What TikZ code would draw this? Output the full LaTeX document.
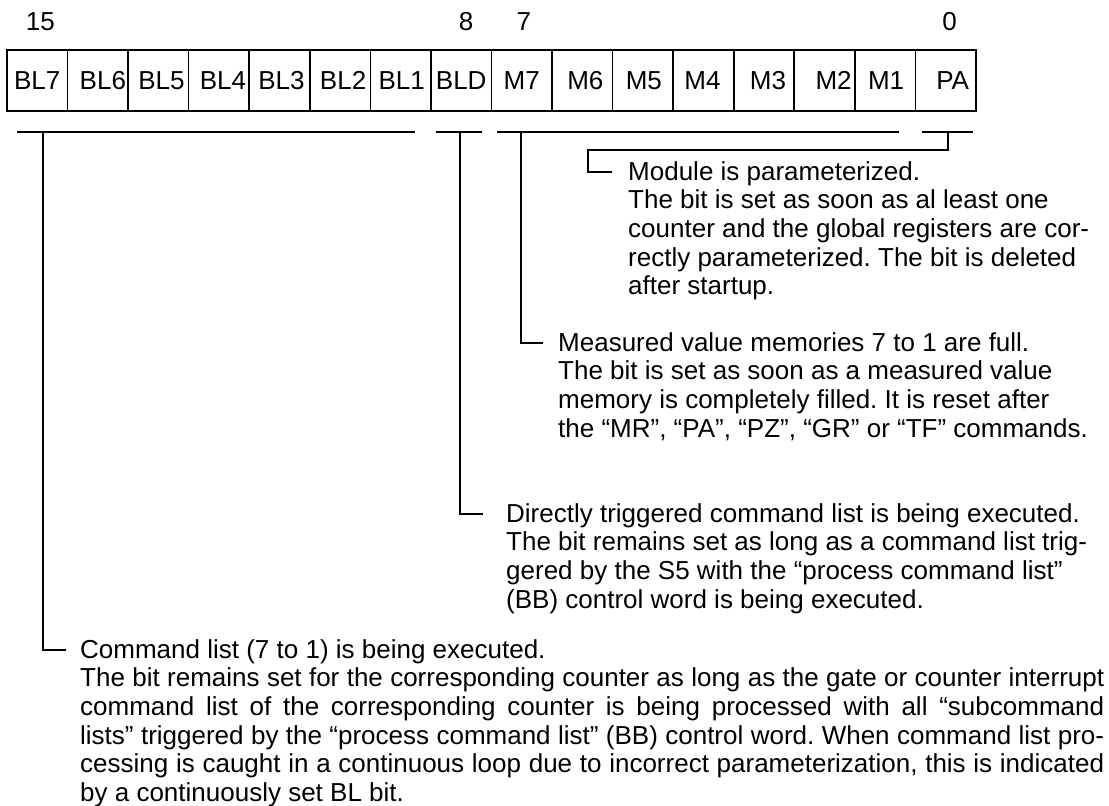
\documentclass[tikz,border=0pt]{standalone}
\usepackage{fontspec}
\setmainfont{Liberation Sans}
\usetikzlibrary{calc}
\frenchspacing
\newcommand{\jline}[1]{\makebox[1024pt][s]{#1}}

\begin{document}
\begin{tikzpicture}[
  x=1pt, y=-1pt,
  font=\fontsize{26}{28.6}\selectfont,
  cell/.style={draw, line width=1.6pt, minimum width=60.56pt, minimum height=61pt,
               inner sep=0pt},
  celltxt/.style={anchor=base, inner sep=0pt},
  bitno/.style={anchor=base, inner sep=0pt},
  brk/.style={line width=1.8pt},
  lead/.style={line width=1.8pt},
  note/.style={anchor=north west, inner sep=0pt, align=left},
]
\useasboundingbox (0,0) rectangle (1109,806);

%============================ REGISTER ============================
\foreach \lbl/\dx [count=\i from 0] in {BL7/0, BL6/5, BL5/3, BL4/4, BL3/2, BL2/3,
    BL1/1, BLD/0, M7/0, M6/3, M5/1, M4/-1, M3/4, M2/9, M1/1, PA/7} {
  \node[cell] (c\i) at ({7+60.56*\i+30.28}, 80.5) {};
  \node[celltxt] (t\i) at ($(c\i.center)+(\dx,9)$) {\lbl};
}

% bit numbers
\node[bitno] (n15) at ($(c0.north)+(3,-19)$) {15};
\node[bitno] (n8)  at ($(c7.north)+(5,-19)$) {8};
\node[bitno] (n7)  at ($(c8.north)+(2,-19)$) {7};
\node[bitno] (n0)  at ($(c15.north)+(4,-19)$) {0};

%============================ BRACKETS ============================
\coordinate (blS)  at (43,132);
\coordinate (bldS) at (460,132);
\coordinate (mS)   at (521,132);
\coordinate (paS)  at (948,132);

\draw[brk] (17,132) -- (415,132);
\draw[brk] (436,132) -- (482,132);
\draw[brk] (497,132) -- (899,132);
\draw[brk] (922,132) -- (973,132);

%============================ NOTES ============================
\node[note] (pa) at (628,160) {\strut Module is parameterized.\\
  The bit is set as soon as al least one\\
  counter and the global registers are cor-\\
  rectly parameterized. The bit is deleted\\
  after startup.};

\node[note] (mnote) at (558,331) {\strut Measured value memories 7 to 1 are full.\\
  The bit is set as soon as a measured value\\
  memory is completely filled. It is reset after\\
  the “MR”, “PA”, “PZ”, “GR” or “TF” commands.};

\node[note] (bld) at (506,502) {\strut Directly triggered command list is being executed.\\
  The bit remains set as long as a command list trig-\\
  gered by the S5 with the “process command list”\\
  (BB) control word is being executed.};

\node[note] (bl) at (80,638) {\strut Command list (7 to 1) is being executed.\\
  \jline{The bit remains set for the corresponding counter as long as the gate or counter interrupt}\\
  \jline{command list of the corresponding counter is being processed with all “subcommand}\\
  \jline{lists” triggered by the “process command list” (BB) control word. When command list pro-}\\
  \jline{cessing is caught in a continuous loop due to incorrect parameterization, this is indicated}\\
  by a continuously set BL bit.};

% leader lines
\draw[lead] (paS) -- ++(0,18) -| ($(pa.north west)+(-40,12)$) -- ($(pa.north west)+(-16,12)$);
\draw[lead] (mS) |- ($(mnote.north west)+(-15,12)$);
\draw[lead] (bldS) |- ($(bld.north west)+(-23,12)$);
\draw[lead] (blS) |- ($(bl.north west)+(-14,12)$);

\end{tikzpicture}
\end{document}
